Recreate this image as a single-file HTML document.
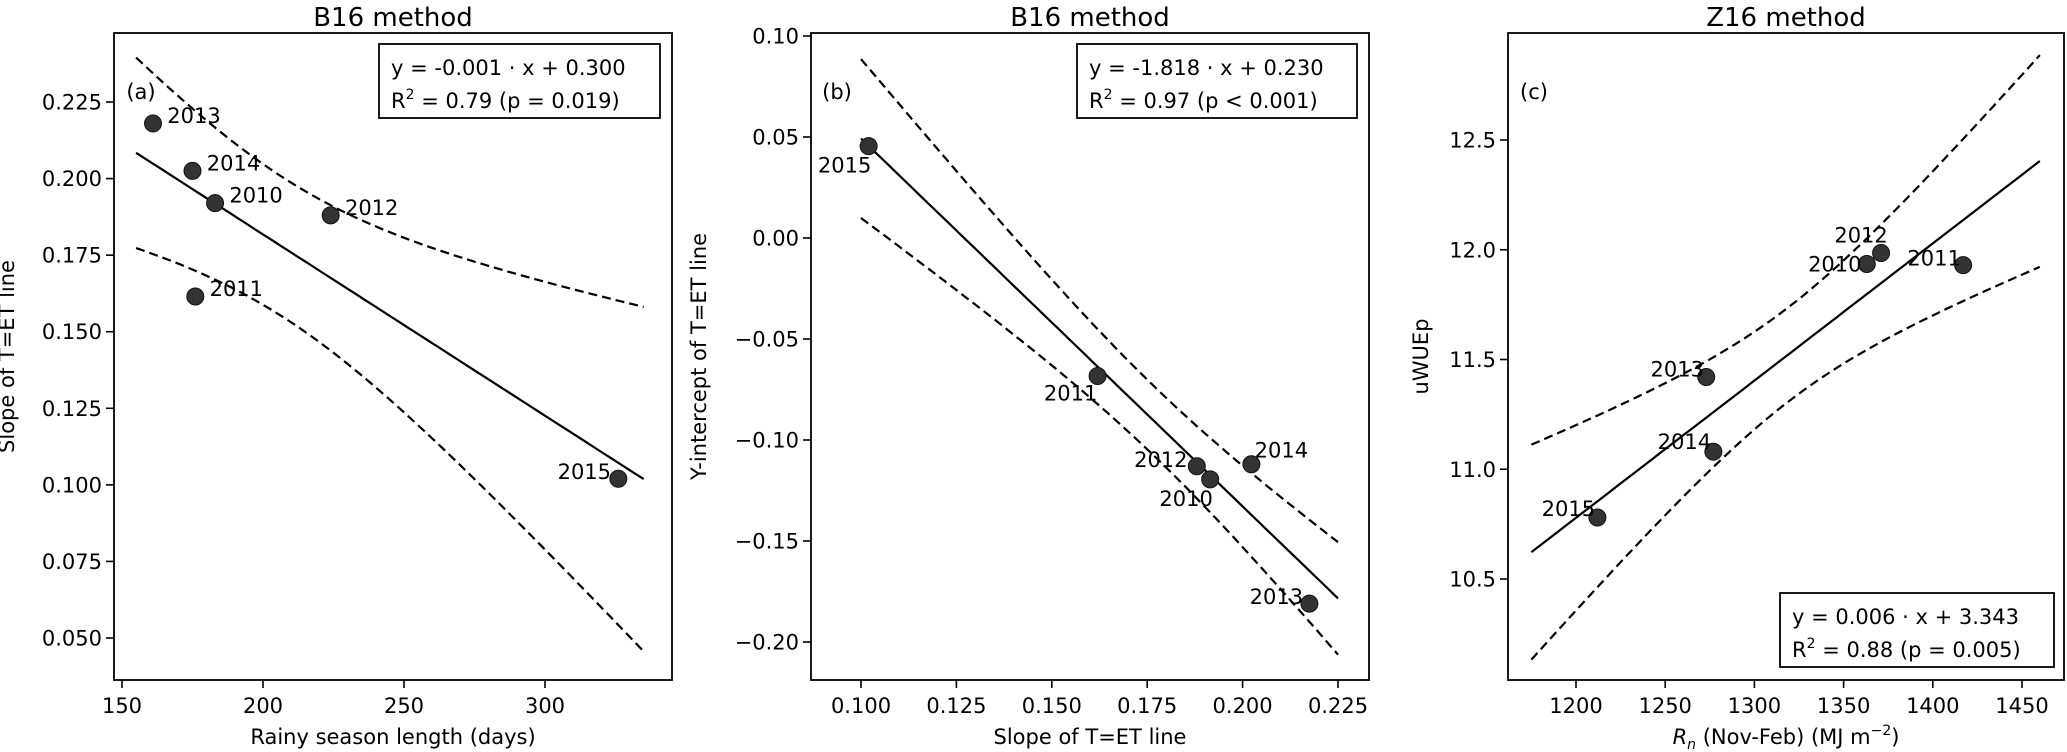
<!DOCTYPE html>
<html><head><meta charset="utf-8">
<style>
html,body{margin:0;padding:0;background:#fff;}
svg{display:block;font-family:"DejaVu Sans","Liberation Sans",sans-serif;}
</style></head>
<body>
<svg id="chart" width="2067" height="752" viewBox="0 0 2067 752" xmlns="http://www.w3.org/2000/svg"></svg>
<script>
// Panel (a)
const yearsA = ["2013","2014","2010","2012","2011","2015"];
const rainyDays = [161, 175, 183, 224, 176, 326];
const slopeA = [0.218, 0.2025, 0.192, 0.188, 0.1615, 0.102];
const xTicksA = [150, 200, 250, 300];
const yTicksA = [0.050, 0.075, 0.100, 0.125, 0.150, 0.175, 0.200, 0.225];
// Panel (b)
const yearsB = ["2015","2011","2012","2010","2014","2013"];
const slopeB = [0.102, 0.162, 0.188, 0.1915, 0.2023, 0.2175];
const interceptB = [0.0455, -0.0683, -0.113, -0.1195, -0.112, -0.181];
const xTicksB = [0.100, 0.125, 0.150, 0.175, 0.200, 0.225];
const yTicksB = [-0.20, -0.15, -0.10, -0.05, 0.00, 0.05, 0.10];
// Panel (c)
const yearsC = ["2015","2013","2014","2010","2012","2011"];
const rnC = [1212, 1273, 1277, 1363, 1371, 1417];
const uwueC = [10.78, 11.42, 11.08, 11.935, 11.985, 11.93];
const xTicksC = [1200, 1250, 1300, 1350, 1400, 1450];
const yTicksC = [10.5, 11.0, 11.5, 12.0, 12.5];

const NS = "http://www.w3.org/2000/svg";
const svg = document.getElementById("chart");
function mk(tag, attrs, parent){
  const e = document.createElementNS(NS, tag);
  for (const k in attrs) e.setAttribute(k, attrs[k]);
  (parent||svg).appendChild(e);
  return e;
}
function lin(d0,d1,r0,r1){ return v => r0 + (v-d0)*(r1-r0)/(d1-d0); }

function fitStats(xs, ys){
  const n = xs.length;
  const mx = xs.reduce((a,b)=>a+b,0)/n, my = ys.reduce((a,b)=>a+b,0)/n;
  let sxx=0, sxy=0;
  for (let i=0;i<n;i++){ sxx+=(xs[i]-mx)**2; sxy+=(xs[i]-mx)*(ys[i]-my); }
  const b = sxy/sxx, a = my - b*mx;
  let sse=0; for (let i=0;i<n;i++) sse += (ys[i]-(a+b*xs[i]))**2;
  const s = Math.sqrt(sse/(n-2));
  return {a,b,s,mx,sxx,n};
}

function panel(cfg){
  const g = mk("g", {});
  
  
  const X = lin(cfg.xd[0], cfg.xd[1], cfg.xr[0], cfg.xr[1]);
  const Y = lin(cfg.yd[0], cfg.yd[1], cfg.yr[0], cfg.yr[1]);
  const t = mk("text", {x:(cfg.L+cfg.R)/2, y:26, "text-anchor":"middle", "font-size":"26"}, g);
  t.textContent = cfg.title;
  
  
  cfg.xTicks.forEach(v=>{
    const x = X(v);
    const tk = mk("line", {x1:x, x2:x, y1:cfg.B, y2:cfg.B+8, stroke:"#000","stroke-width":1.6}, g);
    
    
    const lb = mk("text", {x:x, y:cfg.B+33, "text-anchor":"middle", "font-size":"21"}, g);
    lb.textContent = cfg.xfmt(v);
    
    
  });
  cfg.yTicks.forEach(v=>{
    const y = Y(v);
    const tk = mk("line", {x1:cfg.L-8, x2:cfg.L, y1:y, y2:y, stroke:"#000","stroke-width":1.6}, g);
    
    
    const lb = mk("text", {x:cfg.L-12, y:y+7.5, "text-anchor":"end", "font-size":"21"}, g);
    lb.textContent = cfg.yfmt(v);
    
    
  });
  const f = fitStats(cfg.xs, cfg.ys);
  const tval = cfg.tval;
  const N = 60, up=[], lo=[], mid=[];
  for (let i=0;i<=N;i++){
    const xv = cfg.lx[0] + (cfg.lx[1]-cfg.lx[0])*i/N;
    const yh = f.a + f.b*xv;
    const w = tval*f.s*Math.sqrt(1/f.n + (xv-f.mx)**2/f.sxx);
    mid.push(X(xv).toFixed(1)+","+Y(yh).toFixed(1));
    up.push(X(xv).toFixed(1)+","+Y(yh+w).toFixed(1));
    lo.push(X(xv).toFixed(1)+","+Y(yh-w).toFixed(1));
  }
  const fl = mk("polyline", {points:mid.join(" "), fill:"none", stroke:"#000","stroke-width":2.2}, g);
  
  
  const cu = mk("polyline", {points:up.join(" "), fill:"none", stroke:"#000","stroke-width":2.2,"stroke-dasharray":"9,5"}, g);
  
  
  const cl = mk("polyline", {points:lo.join(" "), fill:"none", stroke:"#000","stroke-width":2.2,"stroke-dasharray":"9,5"}, g);
  
  
  cfg.xs.forEach((xv,i)=>{
    const cx = X(xv), cy = Y(cfg.ys[i]);
    const c = mk("circle", {cx:cx, cy:cy, r:8.5, fill:"#333", stroke:"#111", "stroke-width":1}, g);
    
    
    const off = cfg.offs[i];
    const lb = mk("text", {x:cx+off[0], y:cy+off[1]+7.5, "text-anchor":"middle", "font-size":"21"}, g);
    lb.textContent = cfg.years[i];
    
    
  });
  const fr = mk("rect", {x:cfg.L, y:cfg.T, width:cfg.R-cfg.L, height:cfg.B-cfg.T, fill:"none", stroke:"#000","stroke-width":1.8}, g);
  
  
  const pl = mk("text", {x:cfg.letter[0], y:cfg.letter[1]+7, "text-anchor":"middle", "font-size":"21"}, g);
  pl.textContent = cfg.letterText;
  
  
  const bx = cfg.box;
  const br = mk("rect", {x:bx[0], y:bx[1], width:bx[2]-bx[0], height:bx[3]-bx[1], fill:"#fff", stroke:"#000","stroke-width":1.8}, g);
  
  
  const e1 = mk("text", {x:bx[0]+12, y:bx[1]+31, "font-size":"21"}, g);
  e1.textContent = cfg.eq;
  
  
  const e2 = mk("text", {x:bx[0]+12, y:bx[1]+64, "font-size":"21"}, g);
  e2.innerHTML = 'R<tspan dy="-9" font-size="14">2</tspan><tspan dy="9"> = ' + cfg.r2 + '</tspan>';
  
  
  const xl = mk("text", {x:(cfg.L+cfg.R)/2, y:744, "text-anchor":"middle", "font-size":"21"}, g);
  xl.innerHTML = cfg.xlabel;
  
  
  const yl = mk("text", {x:0, y:0, "text-anchor":"middle", "font-size":"21", transform:`translate(${cfg.ylx},${(cfg.T+cfg.B)/2}) rotate(-90)`}, g);
  yl.textContent = cfg.ylabel;
  
  
}

const f3 = v=>v.toFixed(3), f2 = v=>(v<0?"\u2212":"")+Math.abs(v).toFixed(2), f1=v=>v.toFixed(1), f0=v=>String(v);

panel({name:"panel-a", title:"B16 method", L:114, R:672, T:33, B:680,
  xd:[150,300], xr:[122,545], yd:[0.225,0.050], yr:[102,638],
  xTicks:xTicksA, yTicks:yTicksA, xfmt:f0, yfmt:f3, tval:2.6,
  xs:rainyDays, ys:slopeA, years:yearsA, lx:[155,335],
  offs:[[41,-8],[41,-8],[41,-8],[41,-8],[41,-8],[-34,-7]],
  letter:[141,92], letterText:"(a)", box:[379,44,660,118],
  eq:"y = -0.001 \u00b7 x + 0.300", r2:"0.79 (p = 0.019)",
  xlabel:"Rainy season length (days)", ylabel:"Slope of T=ET line", ylx:14});

panel({name:"panel-b", title:"B16 method", L:811, R:1369, T:33, B:680,
  xd:[0.100,0.225], xr:[861,1338], yd:[0.10,-0.20], yr:[36,642],
  xTicks:xTicksB, yTicks:yTicksB, xfmt:f3, yfmt:f2, tval:2.776,
  xs:slopeB, ys:interceptB, years:yearsB, lx:[0.1,0.225],
  offs:[[-24,19],[-27,17],[-36,-7],[-24,19],[30,-14],[-33,-7]],
  letter:[837,92], letterText:"(b)", box:[1077,44,1357,118],
  eq:"y = -1.818 \u00b7 x + 0.230", r2:"0.97 (p < 0.001)",
  xlabel:"Slope of T=ET line", ylabel:"Y-intercept of T=ET line", ylx:706});

panel({name:"panel-c", title:"Z16 method", L:1508, R:2064, T:33, B:680,
  xd:[1200,1450], xr:[1576,2022], yd:[12.5,10.5], yr:[140,579],
  xTicks:xTicksC, yTicks:yTicksC, xfmt:f0, yfmt:f1, tval:2.7,
  xs:rnC, ys:uwueC, years:yearsC, lx:[1175,1460],
  offs:[[-29,-9],[-29,-8],[-29,-10],[-32,0],[-20,-18],[-29,-7]],
  letter:[1534,92], letterText:"(c)", box:[1780,593,2054,667],
  eq:"y = 0.006 \u00b7 x + 3.343", r2:"0.88 (p = 0.005)",
  xlabel:'<tspan font-style="italic">R</tspan><tspan font-style="italic" font-size="14" dy="5">n</tspan><tspan dy="-5"> (Nov-Feb) (MJ m</tspan><tspan font-size="14" dy="-9">\u22122</tspan><tspan dy="9">)</tspan>',
  ylabel:"uWUEp", ylx:1428});
</script>
</body></html>
